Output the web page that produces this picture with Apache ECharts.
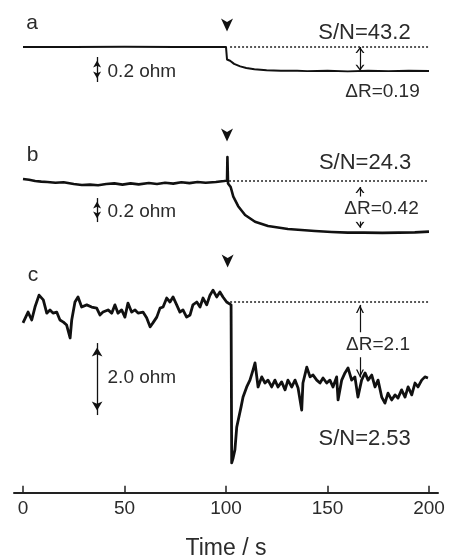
<!DOCTYPE html>
<html>
<head>
<meta charset="utf-8">
<script src="https://cdn.jsdelivr.net/npm/echarts@6/dist/echarts.min.js"></script>
<style>
  html, body { margin: 0; padding: 0; background: #fff; }
  #chart { width: 449px; height: 560px; }
</style>
</head>
<body>
<div id="chart"></div>
<script>
// Resistance change (ohm, relative to the pre-injection baseline) against time (s)
const timeA = [0, 25, 50, 75, 100, 100.5, 102, 104, 107, 110, 114, 120, 127, 135, 140, 150, 160, 170, 180, 190, 200];
const ohmA  = [0, 0, 0.002, 0, 0, -0.1, -0.11, -0.135, -0.155, -0.168, -0.178, -0.186, -0.19, -0.19, -0.193, -0.19, -0.195, -0.19, -0.193, -0.19, -0.192];

const timeB = [0, 3, 6, 9, 12, 16, 20, 25, 29, 33, 37, 41, 45, 49, 53, 57, 62, 66, 70, 74, 78, 82, 86, 90, 95, 99,
               100.5, 100.7, 101, 102.3, 103.6, 106, 109.4, 114.3, 120.7, 130.5, 143.8, 152, 160, 168, 177, 185, 193, 200];
const ohmB  = [0.017, 0.01, 0, -0.005, -0.008, -0.015, -0.01, -0.025, -0.033, -0.03, -0.035, -0.025, -0.02, -0.03, -0.02, -0.028, -0.017, -0.025, -0.015, -0.022, -0.01, -0.018, -0.008, -0.015, -0.008, 0,
               0.005, 0.2, -0.02, -0.05, -0.13, -0.21, -0.283, -0.34, -0.375, -0.4, -0.417, -0.425, -0.43, -0.43, -0.432, -0.43, -0.428, -0.422];

const timeC = [0, 2.5, 4.3, 5.9, 7.9, 10, 11.7, 13.3, 14.8, 16.6, 18.2, 19.9, 21.5, 23.2, 24, 25.6, 27.1, 28.9, 31.4, 33.8,
               36.3, 37.9, 39.4, 41.9, 43.7, 45.3, 46.8, 48.6, 50.2, 51.7, 53.5, 55.2, 56.7, 59.1, 60.9, 62.6, 64, 65.9, 67.5, 69,
               70.8, 72.4, 73.9, 75.7, 77.3, 78.8, 80.6, 82.3, 83.7, 85.6, 87.2, 88.7, 90.5, 92.1, 93.6, 95.4, 97, 98.5, 100.3, 102.5,
               102.8, 103.4, 104.4, 105.3, 107.4, 108.4, 110.2, 111.8, 113.3, 114.3, 115.8, 117.6, 119.2, 120.7, 122.5, 124.1, 125.6, 127.4, 129.1, 130.5,
               132.4, 134, 135.5, 137.3, 137.9, 139.8, 141.4, 142.9, 144.7, 146.3, 147.8, 149.6, 151.2, 152.7, 154.5, 155.2, 157, 158.6, 160.1, 161.9,
               163.5, 165, 166.8, 168.5, 170, 171.8, 173.4, 174.9, 176.7, 178.3, 179.8, 181.6, 183.3, 184.7, 186.5, 188.2, 189.7, 191.5, 193.1, 194.6,
               196.4, 198, 199.5];
const ohmC  = [-0.58, -0.28, -0.5, -0.14, 0.19, 0.06, -0.31, -0.22, -0.31, -0.28, -0.5, -0.56, -0.64, -1.0, -0.5, 0, 0.14, -0.14, -0.08, -0.14,
               -0.17, -0.36, -0.28, -0.22, -0.31, -0.08, -0.31, -0.22, -0.42, -0.03, -0.28, -0.22, -0.31, -0.28, -0.44, -0.69, -0.58, -0.42, -0.17, -0.14,
               0.11, 0, 0.14, -0.08, -0.28, -0.22, -0.42, -0.36, -0.08, 0, -0.14, 0.11, -0.08, 0.19, 0.33, 0.14, 0.28, 0.14, 0, -0.08,
               -4.47, -4.36, -4.1, -3.47, -2.92, -2.64, -2.36, -2.17, -1.89, -1.69, -2.36, -2.08, -2.25, -2.17, -2.36, -2.17, -2.36, -2.22, -2.44, -2.17,
               -2.36, -2.17, -2.39, -3.0, -2.25, -1.81, -2.08, -2.03, -2.17, -2.25, -2.11, -2.25, -2.17, -2.36, -2.08, -2.72, -2.17, -1.97, -1.83, -2.17,
               -2.08, -2.64, -2.17, -1.97, -2.17, -2.03, -2.36, -2.17, -2.64, -2.81, -2.53, -2.72, -2.58, -2.67, -2.44, -2.64, -2.36, -2.58, -2.25, -2.36,
               -2.17, -2.08, -2.11];

const panelLetters = ['a', 'b', 'c'];
const snLabels = ['S/N=43.2', 'S/N=24.3', 'S/N=2.53'];
const deltaR = [0.19, 0.42, 2.1];
const scaleBarOhm = [0.2, 0.2, 2.0];
const xTicks = [0, 50, 100, 150, 200];
const xTitle = 'Time / s';

const traces = [
  { t: timeA, r: ohmA },
  { t: timeB, r: ohmB },
  { t: timeC, r: ohmC }
];

const TEXT = '#2b2b2b';
const INK = '#111';
const FONT = '"Liberation Sans", Arial, sans-serif';
const CHEVRON = 'path://M0,7 L5,0 L10,7 L8.2,7 L5,2.6 L1.8,7 Z';
const POINTER = 'path://M0,0 L6,3.5 L12,0 L6,13 Z';

// Panel geometry and annotation anchors, in each panel's own data units
const panels = [
  { top: 9.5, height: 93.75, yMin: -0.45, yMax: 0.3, width: 2,
    letter: [4.5, 0.19], marker: [100.5, 0.176], sn: [168.2, 0.116], dotFrom: 102,
    drText: [177.1, -0.356], drArrow: [166, 0, -0.19], drHead: [9, 6], drBg: false,
    bar: [36.5, -0.08], barText: [41.4, -0.2], barHead: [6, 7] },
  { top: 133, height: 108, yMin: -0.5, yMax: 0.4, width: 2.6,
    letter: [4.7, 0.2125], marker: [100.5, 0.383], sn: [168.5, 0.154], dotFrom: 101.5,
    drText: [176.6, -0.233], drArrow: [166, -0.05, -0.39], drHead: [9, 6], drBg: true,
    bar: [36.5, -0.142], barText: [41.4, -0.258], barHead: [6, 7] },
  { top: 248, height: 244.8, yMin: -5.3, yMax: 1.5, width: 2.8,
    letter: [4.9, 0.74], marker: [100.8, 1.14], sn: [168.3, -3.79], dotFrom: 102,
    drText: [174.9, -1.19], drArrow: [166, -0.08, -2.1], drHead: [8, 8], drBg: true,
    bar: [36.5, -1.14], barText: [41.4, -2.11], barHead: [8, 9] }
];

function textPoint(coord, text, size, extra) {
  return {
    coord: coord,
    symbol: 'rect',
    symbolSize: 1,
    itemStyle: { color: 'rgba(0,0,0,0)', borderWidth: 0 },
    label: Object.assign({
      show: true, position: 'inside', formatter: text,
      fontSize: size, color: TEXT, fontFamily: FONT
    }, extra || {})
  };
}

const xMin = xTicks[0], xMax = xTicks[xTicks.length - 1], xStep = xTicks[1] - xTicks[0];

const grids = [], xAxes = [], yAxes = [], series = [];

panels.forEach(function (P, i) {
  grids.push({ left: 23, right: 20, top: P.top, height: P.height, outerBoundsMode: 'none', containLabel: false });
  const isBottom = i === panels.length - 1;
  xAxes.push({
    gridIndex: i, type: 'value', min: xMin, max: xMax, interval: xStep,
    show: isBottom,
    position: 'bottom',
    axisLine: { show: false, onZero: false },
    axisTick: { show: true, inside: true, length: 7, lineStyle: { color: '#222', width: 1.5 } },
    axisLabel: { show: true, fontSize: 19, color: TEXT, fontFamily: FONT, margin: 6 },
    splitLine: { show: false },
    name: isBottom ? xTitle : '',
    nameLocation: 'middle', nameGap: 44,
    nameTextStyle: { fontSize: 23, color: TEXT, fontFamily: FONT }
  });
  yAxes.push({ gridIndex: i, type: 'value', min: P.yMin, max: P.yMax, show: false, splitLine: { show: false } });

  const tr = traces[i];
  const arrowStyle = { type: 'solid', width: 1.2, color: INK };
  const barTop = P.bar[1];
  const barBottom = barTop - scaleBarOhm[i];

  series.push({
    type: 'line',
    xAxisIndex: i, yAxisIndex: i,
    data: tr.t.map(function (x, k) { return [x, tr.r[k]]; }),
    symbol: 'none', showSymbol: false,
    lineStyle: { color: INK, width: P.width, join: 'round' },
    silent: true, animation: false, z: 3,
    markLine: {
      silent: true, animation: false,
      label: { show: false },
      emphasis: { disabled: true },
      data: [
        [
          { coord: [P.dotFrom, 0], symbol: 'none', lineStyle: { type: [2, 2], width: 1.5, color: '#222' } },
          { coord: [xMax, 0], symbol: 'none' }
        ],
        [
          { coord: [P.drArrow[0], P.drArrow[1]], symbol: CHEVRON, symbolSize: P.drHead, symbolOffset: [0, P.drHead[1] / 2], lineStyle: arrowStyle },
          { coord: [P.drArrow[0], P.drArrow[2]], symbol: CHEVRON, symbolSize: P.drHead, symbolOffset: [0, P.drHead[1] / 2] }
        ],
        [
          { coord: [P.bar[0], barTop], symbol: 'arrow', symbolSize: P.barHead, symbolOffset: [0, P.barHead[1] / 2], lineStyle: { type: 'solid', width: 1.3, color: INK } },
          { coord: [P.bar[0], barBottom], symbol: 'arrow', symbolSize: P.barHead, symbolOffset: [0, P.barHead[1] / 2] }
        ]
      ]
    },
    markPoint: {
      z: 8, silent: true, animation: false,
      data: [
        { coord: P.marker, symbol: POINTER, symbolSize: [12, 13], itemStyle: { color: INK, borderWidth: 0 }, label: { show: false } },
        textPoint(P.letter, panelLetters[i], 21),
        textPoint(P.sn, snLabels[i], 22),
        textPoint(P.drText, '\u0394R=' + deltaR[i], 19,
          P.drBg ? { backgroundColor: '#fff', padding: [3, 1] } : {}),
        textPoint(P.barText, scaleBarOhm[i].toFixed(1) + ' ohm', 19, { position: 'right', distance: 0 })
      ]
    }
  });
});

// Full-width baseline of the time axis, running a little past both end ticks
const last = panels[panels.length - 1];
grids.push({ left: 14, right: 11, top: last.top, height: last.height, outerBoundsMode: 'none', containLabel: false });
xAxes.push({
  gridIndex: 3, type: 'value', min: 0, max: 1, position: 'bottom',
  axisLine: { show: true, onZero: false, lineStyle: { color: '#222', width: 2 } },
  axisTick: { show: false }, axisLabel: { show: false }, splitLine: { show: false }
});
yAxes.push({ gridIndex: 3, type: 'value', show: false, min: 0, max: 1 });

const chart = echarts.init(document.getElementById('chart'), null, { renderer: 'canvas' });
chart.setOption({
  animation: false,
  backgroundColor: '#fff',
  grid: grids,
  xAxis: xAxes,
  yAxis: yAxes,
  series: series
});
</script>
</body>
</html>
